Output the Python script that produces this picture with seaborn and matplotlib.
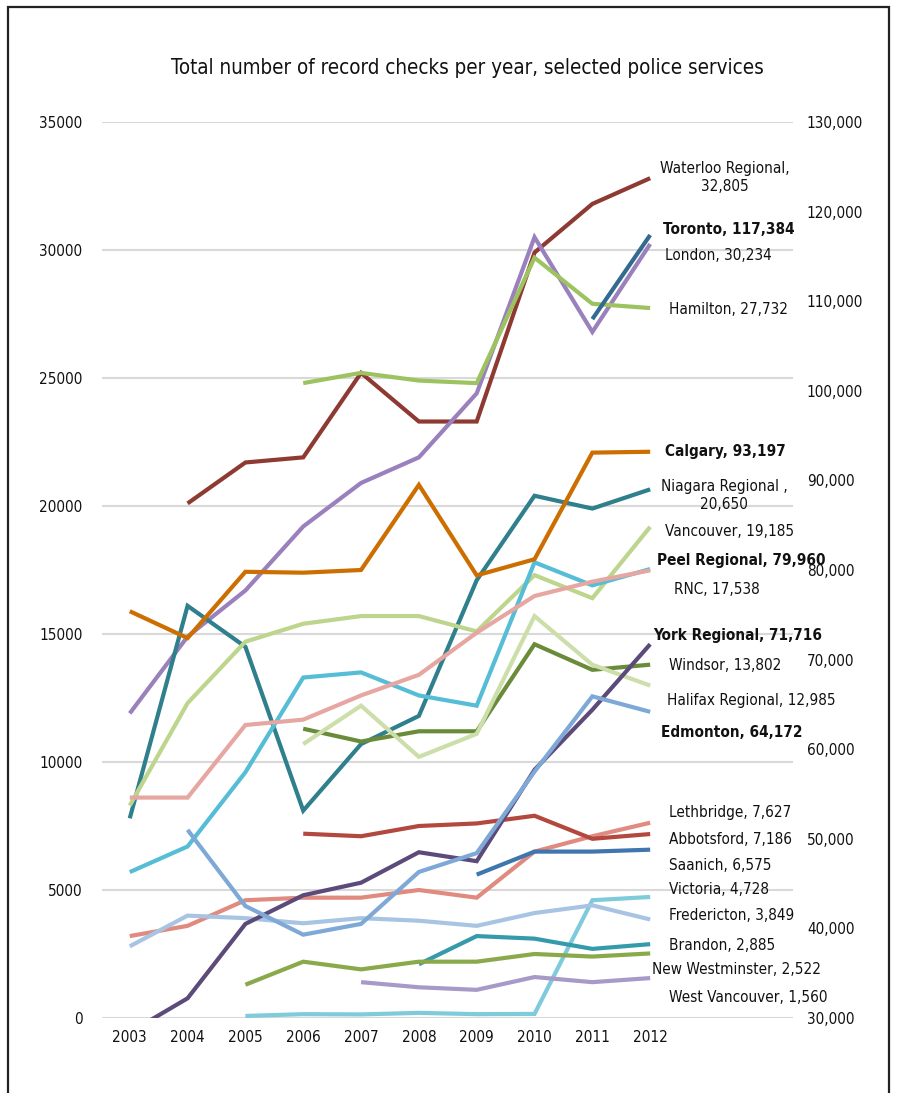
import numpy as np
import pandas as pd
import matplotlib
matplotlib.use('Agg')
import matplotlib.pyplot as plt
import matplotlib.patches as patches
from matplotlib import font_manager
from matplotlib.ticker import FuncFormatter
import seaborn as sns

nan = np.nan
years = list(range(2003, 2013))

# services read on the left axis
waterloo = [nan, 20100, 21700, 21900, 25200, 23300, 23300, 29900, 31800, 32805]
london = [11900, 14900, 16700, 19200, 20900, 21900, 24400, 30500, 26800, 30234]
hamilton = [nan, nan, nan, 24800, 25200, 24900, 24800, 29700, 27900, 27732]
niagara = [7800, 16100, 14500, 8100, 10700, 11800, 17100, 20400, 19900, 20650]
vancouver = [8300, 12300, 14700, 15400, 15700, 15700, 15100, 17300, 16400, 19185]
rnc = [5700, 6700, 9600, 13300, 13500, 12600, 12200, 17800, 16900, 17538]
windsor = [nan, nan, nan, 11300, 10800, 11200, 11200, 14600, 13600, 13802]
halifax = [nan, nan, nan, 10700, 12200, 10200, 11100, 15700, 13800, 12985]
lethbridge = [3200, 3600, 4600, 4700, 4700, 5000, 4700, 6500, 7100, 7627]
abbotsford = [nan, nan, nan, 7200, 7100, 7500, 7600, 7900, 7000, 7186]
saanich = [nan, nan, nan, nan, nan, nan, 5600, 6500, 6500, 6575]
victoria = [nan, nan, 80, 150, 140, 200, 150, 160, 4600, 4728]
fredericton = [2800, 4000, 3900, 3700, 3900, 3800, 3600, 4100, 4400, 3849]
brandon = [nan, nan, nan, nan, nan, 2100, 3200, 3100, 2700, 2885]
new_westminster = [nan, nan, 1300, 2200, 1900, 2200, 2200, 2500, 2400, 2522]
west_vancouver = [nan, nan, nan, nan, 1400, 1200, 1100, 1600, 1400, 1560]

# services read on the right axis (bold labels)
toronto = [nan, nan, nan, nan, nan, nan, nan, nan, 108000, 117384]
calgary = [75400, 72400, 79800, 79700, 80000, 89500, 79400, 81200, 93100, 93197]
peel = [54600, 54600, 62700, 63300, 66000, 68300, 73000, 77100, 78700, 79960]
york = [28400, 32200, 40500, 43700, 45100, 48500, 47500, 57700, 64400, 71716]
edmonton = [nan, 51000, 42500, 39300, 40500, 46300, 48400, 57500, 65900, 64172]

left_names = ['Waterloo Regional', 'London', 'Hamilton', 'Niagara Regional', 'Vancouver',
              'RNC', 'Windsor', 'Halifax Regional', 'Lethbridge', 'Abbotsford', 'Saanich',
              'Victoria', 'Fredericton', 'Brandon', 'New Westminster', 'West Vancouver']
left_series = [waterloo, london, hamilton, niagara, vancouver, rnc, windsor, halifax,
               lethbridge, abbotsford, saanich, victoria, fredericton, brandon,
               new_westminster, west_vancouver]
left_colors = ['#8E3A33', '#9A80BC', '#9DC360', '#2F7F8C', '#BDD58C', '#55BDD5', '#6A8B3A',
               '#CCDEAA', '#E08A80', '#B3483F', '#3F76AD', '#7FCADB', '#A8C4E3', '#359BAB',
               '#89A94A', '#A899C9']

right_names = ['Toronto', 'Calgary', 'Peel Regional', 'York Regional', 'Edmonton']
right_series = [toronto, calgary, peel, york, edmonton]
right_colors = ['#336A8F', '#CC6E00', '#E6A7A2', '#5C4A7A', '#7EA8D6']

# end labels: (text, x in years, y on left axis, bold, centred)
labels = [
    ('Waterloo Regional,\n32,805', 2013.29, 32850, False, True),
    ('Toronto, 117,384', 2012.22, 30820, True, False),
    ('London, 30,234', 2012.26, 29800, False, False),
    ('Hamilton, 27,732', 2012.33, 27660, False, False),
    ('Calgary, 93,197', 2012.26, 22110, True, False),
    ('Niagara Regional ,\n20,650', 2013.28, 20410, False, True),
    ('Vancouver, 19,185', 2012.26, 19020, False, False),
    ('Peel Regional, 79,960', 2012.12, 17890, True, False),
    ('RNC, 17,538', 2012.41, 16720, False, False),
    ('York Regional, 71,716', 2012.05, 14960, True, False),
    ('Windsor, 13,802', 2012.33, 13750, False, False),
    ('Halifax Regional, 12,985', 2012.29, 12420, False, False),
    ('Edmonton, 64,172', 2012.19, 11170, True, False),
    ('Lethbridge, 7,627', 2012.33, 8010, False, False),
    ('Abbotsford, 7,186', 2012.33, 6990, False, False),
    ('Saanich, 6,575', 2012.33, 5940, False, False),
    ('Victoria, 4,728', 2012.33, 5000, False, False),
    ('Fredericton, 3,849', 2012.33, 4020, False, False),
    ('Brandon, 2,885', 2012.33, 2850, False, False),
    ('New Westminster, 2,522', 2012.03, 1910, False, False),
    ('West Vancouver, 1,560', 2012.33, 820, False, False),
]


def long_table(names, series):
    rows = []
    for name, vals in zip(names, series):
        for yr, v in zip(years, vals):
            rows.append({'year': yr, 'service': name, 'checks': v})
    return pd.DataFrame(rows).dropna()


df_left = long_table(left_names, left_series)
df_right = long_table(right_names, right_series)

sns.set_style('white')
available = {f.name for f in font_manager.fontManager.ttflist}
if 'Liberation Sans Narrow' in available:
    plt.rcParams['font.family'] = ['Liberation Sans Narrow', 'DejaVu Sans']
else:
    plt.rcParams['font.family'] = ['DejaVu Sans']
    plt.rcParams['font.stretch'] = 'condensed'

fig = plt.figure(figsize=(8.97, 10.93), dpi=100)
ax = fig.add_axes([102 / 897, 1 - 1018 / 1093, (793 - 102) / 897, (1018 - 122) / 1093])
ax2 = ax.twinx()

sns.lineplot(data=df_left, x='year', y='checks', hue='service', hue_order=left_names,
             palette=dict(zip(left_names, left_colors)), linewidth=3, errorbar=None,
             legend=False, ax=ax)
sns.lineplot(data=df_right, x='year', y='checks', hue='service', hue_order=right_names,
             palette=dict(zip(right_names, right_colors)), linewidth=3, errorbar=None,
             legend=False, ax=ax2)

for line in ax.lines + ax2.lines:
    line.set_solid_capstyle('butt')
    line.set_solid_joinstyle('miter')

ax.set_xlim(2002.52, 2014.47)
ax.set_xticks(years)
ax.set_xticklabels([str(y) for y in years])
ax.set_ylim(0, 35000)
ax.set_yticks(range(0, 35001, 5000))
ax2.set_ylim(30000, 130000)
ax2.set_yticks(range(30000, 130001, 10000))
ax2.yaxis.set_major_formatter(FuncFormatter(lambda v, p: f'{int(v):,}'))

ax.grid(axis='y', color='#D9D9D9', linewidth=1.5)
ax.grid(axis='x', visible=False)
ax2.grid(False)
ax.set_xlabel('')
ax.set_ylabel('')
ax2.set_ylabel('')
for a in (ax, ax2):
    for s in a.spines.values():
        s.set_visible(False)
ax.tick_params(axis='y', length=0, pad=14, labelsize=11, labelcolor='#111111')
ax.tick_params(axis='x', length=0, pad=9, labelsize=11, labelcolor='#111111')
ax2.tick_params(axis='y', length=0, pad=10, labelsize=11, labelcolor='#111111')

for text, x, y, bold, centred in labels:
    ax.text(x, y, text, fontsize=11, fontweight='bold' if bold else 'normal',
            ha='center' if centred else 'left', va='center', multialignment='center',
            linespacing=1.25, color='#111111')

fig.text(467 / 897, 1 - 68 / 1093, 'Total number of record checks per year, selected police services',
         ha='center', va='center', fontsize=14.8, color='#111111')

fig.patches.append(patches.Rectangle((8 / 897, -0.05), (889 - 8) / 897, 1.05 - 7 / 1093,
                                     transform=fig.transFigure, fill=False,
                                     edgecolor='#222222', linewidth=1.6, zorder=0))

fig.savefig('out.png', dpi=100)
